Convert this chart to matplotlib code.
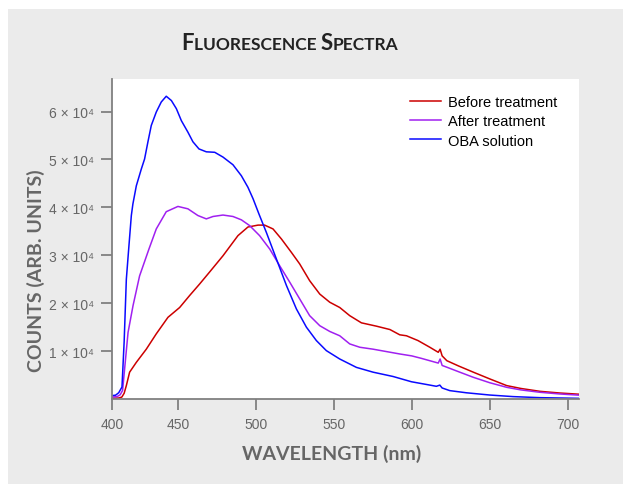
import numpy as np
import matplotlib
matplotlib.use("Agg")
import matplotlib.pyplot as plt
from matplotlib.patches import Rectangle
from matplotlib.offsetbox import TextArea, HPacker, AnnotationBbox

# wavelength (nm) / counts
before_nm = [407.7, 412, 414, 415.5, 416.9, 419, 423.3, 429.7, 436.1, 443.6, 451.1,
             457.5, 463.9, 470.3, 478.9, 482.1, 488.5, 494.9, 501.4, 505.6, 511,
             516.4, 522.8, 528.1, 534.5, 541, 547.4, 553.8, 560.2, 567.7, 577.4,
             586, 592.3, 596.6, 604, 611.6, 617, 618.2, 619.5, 622.5, 630, 639.5,
             650, 660.9, 670, 682.3, 695, 707.3]
before_counts = [150, 200, 400, 1200, 2800, 5600, 7650, 10400, 13600, 17050, 19100,
                 21600, 24000, 26500, 29900, 31300, 34100, 35900, 36300, 36300, 35500,
                 33400, 30600, 28200, 24700, 21900, 20200, 19100, 17400, 15900, 15200,
                 14500, 13400, 13200, 12200, 10800, 9750, 10400, 9000, 8000, 6900, 5600,
                 4200, 2800, 2200, 1600, 1250, 1000]

after_nm = [407.7, 411, 413, 414.5, 416, 418, 421.2, 425.4, 431.4, 436.1, 442.5, 450,
            456.4, 462.8, 468.2, 472.5, 478.9, 485.3, 490.7, 496, 502.4, 508.9,
            515.3, 521.7, 528.1, 534.5, 541, 547.4, 553.8, 560.2, 566.7, 575.2,
            592.3, 600, 606, 613.7, 617, 618.2, 619.5, 622, 630, 639.5, 650, 660.9,
            670, 682.3, 695, 707.3]
after_counts = [400, 500, 900, 1800, 7000, 13900, 19500, 25700, 31300, 35500, 39100,
                40200, 39700, 38300, 37600, 38100, 38400, 38100, 37400, 36200, 34100,
                31300, 27800, 24400, 20900, 17400, 15300, 14100, 13200, 11500, 10800,
                10400, 9400, 9000, 8500, 7800, 7500, 8350, 7000, 6700, 5700, 4530, 3400,
                2440, 1900, 1400, 1050, 800]

oba_nm = [407.7, 410, 412, 414.1, 415.5, 416.9, 418.4, 420.1, 421.1, 423.3, 426.5,
          428.6, 430.7, 432.9, 436.1, 439.3, 442.5, 445.8, 449, 452.2, 456.4, 459.6,
          463.5, 468.2, 473.6, 478.9, 485.3, 490.7, 494.9, 498.2, 502, 506.7, 513.2,
          519.6, 526, 532.4, 538.8, 545.2, 553.8, 564.5, 575.2, 588, 599.8, 610,
          615.8, 618, 619.5, 624.4, 635, 650, 665, 682, 707.3]
oba_counts = [700, 800, 1300, 2500, 12000, 25000, 31300, 38300, 40700, 44500, 48000,
              50100, 53600, 57100, 59900, 62000, 63200, 62300, 60600, 58100, 55700,
              53700, 52200, 51600, 51500, 50500, 48900, 46600, 44200, 41800, 38600,
              34800, 29200, 23700, 18800, 15000, 12200, 10100, 8350, 6600, 5600, 4700,
              3600, 3000, 2650, 2900, 2300, 1750, 1300, 830, 500, 280, 140]

x_ticks = [407.7, 450, 500, 550, 600, 650, 700]
x_tick_labels = ["400", "450", "500", "550", "600", "650", "700"]
y_ticks = [10000, 20000, 30000, 40000, 50000, 60000]

GREY = "#666666"
SANS = ["Liberation Sans", "DejaVu Sans"]

fig = plt.figure(figsize=(6.23, 4.85), dpi=100)
fig.patch.set_facecolor("white")
fig.add_artist(Rectangle((8 / 623, 0), 1, 1 - 10 / 485, transform=fig.transFigure,
                         facecolor="#ebebeb", edgecolor="none", zorder=-10))

ax = fig.add_axes([112 / 623, 85 / 485, 467 / 623, 320 / 485])
ax.plot(before_nm, before_counts, color="#cc0000", lw=1.1, label="Before treatment")
ax.plot(after_nm, after_counts, color="#a020f0", lw=1.1, label="After treatment")
ax.plot(oba_nm, oba_counts, color="#0a0aff", lw=1.1, label="OBA solution")

ax.set_xlim(407.7, 707.3)
ax.set_ylim(0, 66800)
ax.set_xticks(x_ticks)
ax.set_xticklabels(x_tick_labels)
ax.set_yticks(y_ticks)
ax.set_yticklabels([f"{int(v / 10000)} \u00d7 10\u2074" for v in y_ticks])

for side in ["top", "right"]:
    ax.spines[side].set_visible(False)
for side in ["left", "bottom"]:
    ax.spines[side].set_color("#808080")
    ax.spines[side].set_linewidth(1.3)
ax.tick_params(direction="out", length=8, width=1.3, color="#808080",
               labelcolor=GREY, labelsize=10)
ax.tick_params(axis="x", pad=5)
ax.tick_params(axis="y", pad=5)
for lab in ax.get_xticklabels() + ax.get_yticklabels():
    lab.set_family(SANS)

leg = ax.legend(loc="upper left", bbox_to_anchor=(403 / 623, 1 - 89 / 485),
                bbox_transform=fig.transFigure, frameon=False, borderpad=0,
                handlelength=2.1, handletextpad=0.5, labelspacing=0.35,
                prop={"family": SANS, "size": 10.5})

# small caps title
parts = [("F", 16), ("LUORESCENCE ", 12.5), ("S", 16), ("PECTRA", 12.5)]
boxes = [TextArea(t, textprops=dict(fontsize=s, fontweight="bold", family="Lato",
                                    color="#222222")) for t, s in parts]
title = HPacker(children=boxes, align="baseline", pad=0, sep=0)
fig.add_artist(AnnotationBbox(title, (290 / 623, 1 - 44 / 485), xycoords="figure fraction",
                              frameon=False, box_alignment=(0.5, 0.5)))

fig.text(332 / 623, 1 - 454 / 485, "WAVELENGTH (nm)", ha="center", va="center",
         fontsize=14, fontweight="bold", family="Lato", color=GREY)
fig.text(36 / 623, 1 - 271 / 485, "COUNTS (ARB. UNITS)", ha="center", va="center",
         rotation=90, fontsize=14, fontweight="bold", family="Lato", color=GREY)

fig.savefig("out.png", dpi=100)
